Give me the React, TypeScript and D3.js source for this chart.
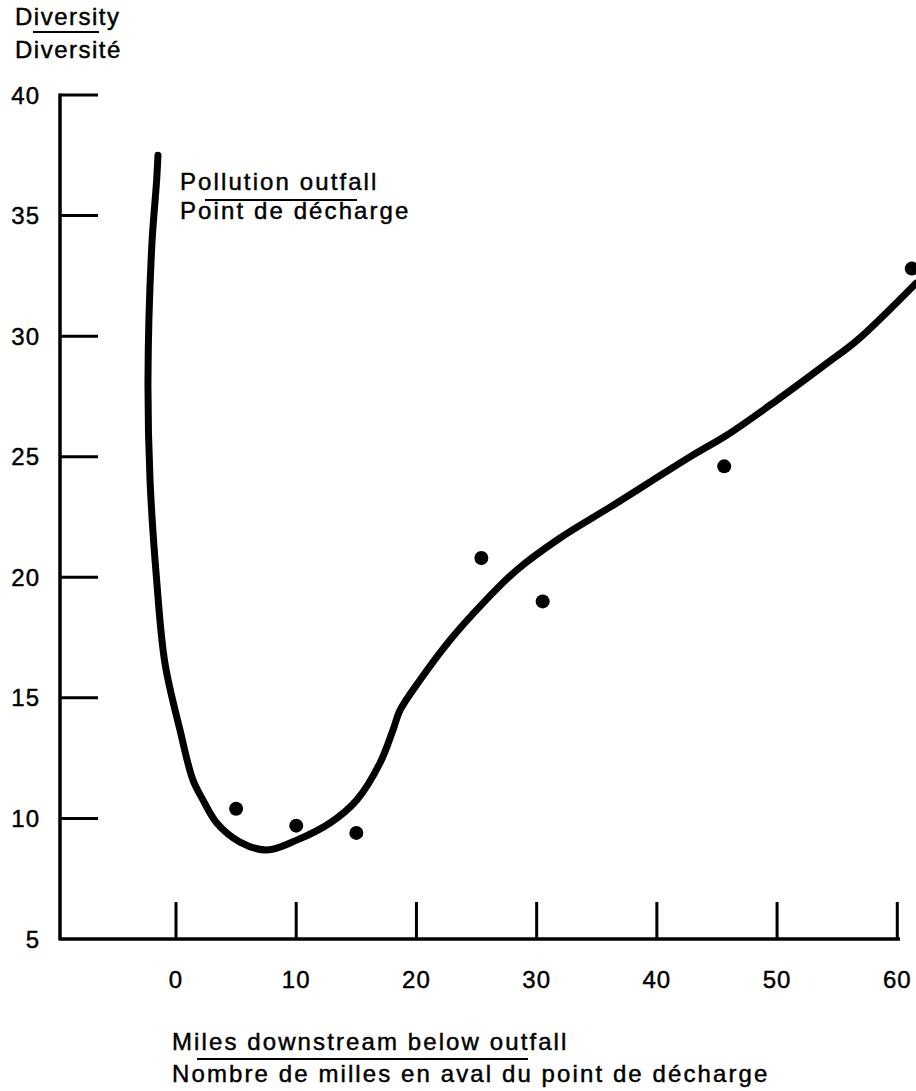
import React from 'react';
import * as d3 from 'd3';

// values
const xTicks = [0, 10, 20, 30, 40, 50, 60];
const yTicks = [5, 10, 15, 20, 25, 30, 35, 40];

const sampleMiles = [5, 10, 15, 25.4, 30.5, 45.6, 61.2];
const sampleDiversity = [10.4, 9.7, 9.4, 20.8, 19.0, 24.6, 32.8];

// the hand-drawn trend line
const trendMiles = [
  -1.5, -1.61, -2.02, -2.33, -2.16, -1.61, -0.92, 0.33, 1.41, 2.25, 3.39, 5.32, 7.55,
  10.04, 12.81, 15.03, 16.97, 18.05, 18.64, 20.3, 22.8, 25.54, 28.34, 31.95, 36.11,
  43.01, 45.84, 50.0, 54.16, 56.66, 61.56,
];
const trendDiversity = [
  37.5, 36.47, 33.69, 28.18, 24.03, 19.88, 16.44, 13.67, 11.59, 10.76, 9.81, 9.02, 8.69,
  9.1, 9.81, 10.76, 12.3, 13.67, 14.49, 15.74, 17.4, 18.93, 20.3, 21.63, 22.91,
  25.07, 25.9, 27.35, 28.88, 29.83, 32.2,
];

const W = 916;
const H = 1091;
const font = '"Liberation Sans", Arial, Helvetica, sans-serif';

const App = () => {
  const x = d3.scaleLinear().domain([0, 60]).range([176, 897.3]);
  const y = d3.scaleLinear().domain([5, 40]).range([939, 95]);
  const axisX = 60;

  const trend = trendMiles.map((m, i) => [m, trendDiversity[i]] as [number, number]);
  const line = d3
    .line<[number, number]>()
    .x(d => x(d[0]))
    .y(d => y(d[1]))
    .curve(d3.curveCatmullRom.alpha(0.5));

  // scanned type is a bit heavy, so a thin stroke thickens it
  const txt = {
    fontFamily: font,
    fontSize: 24,
    letterSpacing: 2.1,
    fill: '#000',
    stroke: '#000',
    strokeWidth: 0.45,
  };

  return (
    <svg
      width={W}
      height={H}
      style={{ position: 'absolute', left: 0, top: 0, background: '#fff' }}
    >
      {/* y axis title */}
      <text x={15} y={25} {...txt} letterSpacing={1.5}>Diversity</text>
      <line x1={33} x2={99} y1={32} y2={32} stroke="#000" strokeWidth={2} />
      <text x={15} y={58} {...txt} letterSpacing={1.5}>Diversité</text>

      {/* axes */}
      <line x1={axisX} x2={axisX} y1={y(40) - 1.5} y2={y(5) + 1.5} stroke="#000" strokeWidth={3.5} />
      <line x1={axisX} x2={900} y1={y(5)} y2={y(5)} stroke="#000" strokeWidth={3.5} />

      {yTicks.map(t => (
        <g key={'y' + t}>
          {t !== 5 && (
            <line x1={axisX} x2={98} y1={y(t)} y2={y(t)} stroke="#000" strokeWidth={3} />
          )}
          <text x={40} y={y(t) + 8.5} textAnchor="end" {...txt} letterSpacing={1}>{t}</text>
        </g>
      ))}

      {xTicks.map(t => (
        <g key={'x' + t}>
          <line x1={x(t)} x2={x(t)} y1={902} y2={y(5)} stroke="#000" strokeWidth={3} />
          <text x={x(t)} y={988} textAnchor="middle" {...txt} letterSpacing={1}>{t}</text>
        </g>
      ))}

      {/* trend curve */}
      <path d={line(trend) || ''} fill="none" stroke="#000" strokeWidth={7} strokeLinecap="round" />

      {/* samples */}
      {sampleMiles.map((m, i) => (
        <circle key={'p' + i} cx={x(m)} cy={y(sampleDiversity[i])} r={7} fill="#000" />
      ))}

      {/* outfall label */}
      <text x={180} y={190} {...txt}>Pollution outfall</text>
      <line x1={205} x2={357} y1={200} y2={200} stroke="#000" strokeWidth={2} />
      <text x={180} y={219} {...txt}>Point de décharge</text>

      {/* x axis title */}
      <text x={172} y={1050} {...txt}>Miles downstream below outfall</text>
      <line x1={197} x2={528} y1={1059} y2={1059} stroke="#000" strokeWidth={2} />
      <text x={172} y={1082} {...txt}>Nombre de milles en aval du point de décharge</text>
    </svg>
  );
};

export default App;
